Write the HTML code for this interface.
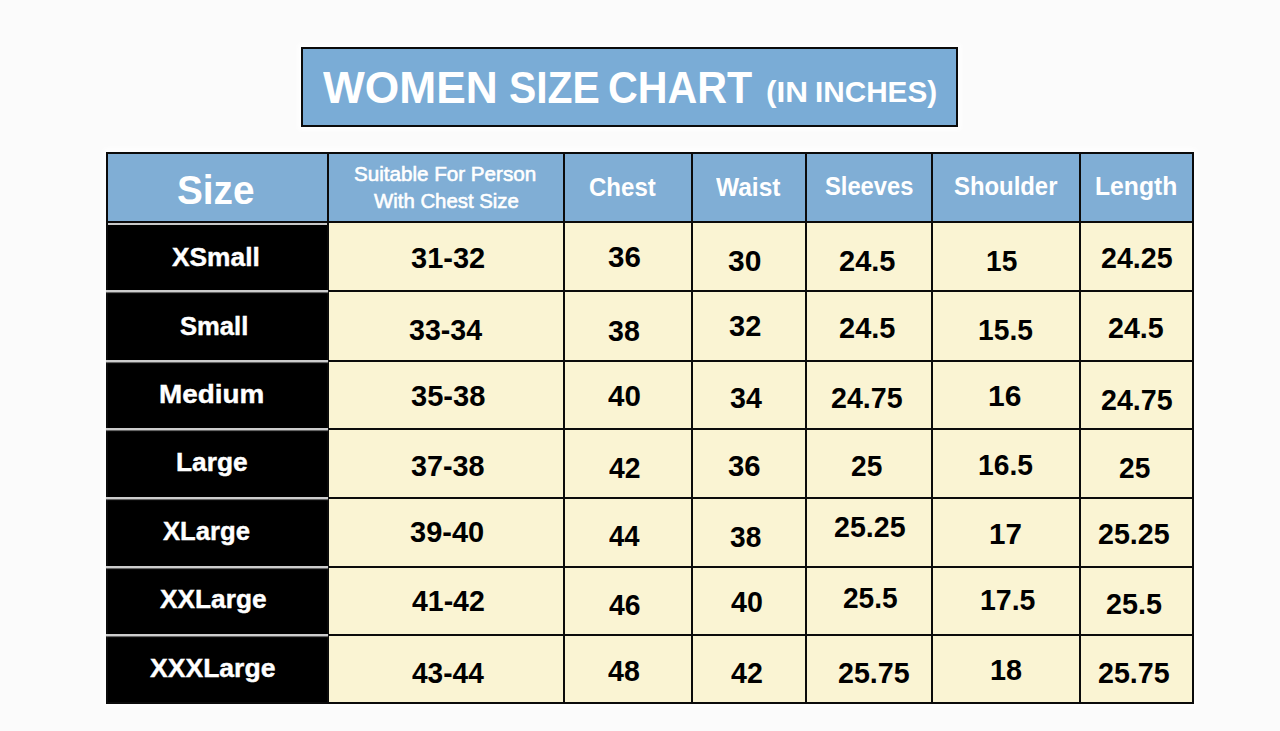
<!DOCTYPE html>
<html><head><meta charset="utf-8"><style>
html,body{margin:0;padding:0;}
body{width:1280px;height:731px;background:#fbfbfb;position:relative;overflow:hidden;font-family:"Liberation Sans",sans-serif;}
.r{position:absolute;}
.t{position:absolute;white-space:nowrap;transform-origin:0 0;}
</style></head><body>
<div class="r" style="left:301px;top:47px;width:657px;height:80px;background:#0b0b0b;box-shadow:0 0 5px 3px #fff;"></div>
<div class="r" style="left:303px;top:49px;width:653px;height:76px;background:#7aacd6;"></div>
<div class="r" style="left:106px;top:152px;width:1088px;height:552px;background:#0b0b0b;box-shadow:0 0 6px 3px #fff;"></div>
<div class="r" style="left:108px;top:154px;width:219px;height:67px;background:#80aed5;"></div>
<div class="r" style="left:329px;top:154px;width:234px;height:67px;background:#80aed5;"></div>
<div class="r" style="left:565px;top:154px;width:126px;height:67px;background:#80aed5;"></div>
<div class="r" style="left:693px;top:154px;width:112px;height:67px;background:#80aed5;"></div>
<div class="r" style="left:807px;top:154px;width:124px;height:67px;background:#80aed5;"></div>
<div class="r" style="left:933px;top:154px;width:146px;height:67px;background:#80aed5;"></div>
<div class="r" style="left:1081px;top:154px;width:111px;height:67px;background:#80aed5;"></div>
<div class="r" style="left:108px;top:223px;width:219px;height:67px;background:#000;"></div>
<div class="r" style="left:329px;top:223px;width:234px;height:67px;background:#faf4d3;"></div>
<div class="r" style="left:565px;top:223px;width:126px;height:67px;background:#faf4d3;"></div>
<div class="r" style="left:693px;top:223px;width:112px;height:67px;background:#faf4d3;"></div>
<div class="r" style="left:807px;top:223px;width:124px;height:67px;background:#faf4d3;"></div>
<div class="r" style="left:933px;top:223px;width:146px;height:67px;background:#faf4d3;"></div>
<div class="r" style="left:1081px;top:223px;width:111px;height:67px;background:#faf4d3;"></div>
<div class="r" style="left:108px;top:292px;width:219px;height:68px;background:#000;"></div>
<div class="r" style="left:329px;top:292px;width:234px;height:68px;background:#faf4d3;"></div>
<div class="r" style="left:565px;top:292px;width:126px;height:68px;background:#faf4d3;"></div>
<div class="r" style="left:693px;top:292px;width:112px;height:68px;background:#faf4d3;"></div>
<div class="r" style="left:807px;top:292px;width:124px;height:68px;background:#faf4d3;"></div>
<div class="r" style="left:933px;top:292px;width:146px;height:68px;background:#faf4d3;"></div>
<div class="r" style="left:1081px;top:292px;width:111px;height:68px;background:#faf4d3;"></div>
<div class="r" style="left:108px;top:362px;width:219px;height:66px;background:#000;"></div>
<div class="r" style="left:329px;top:362px;width:234px;height:66px;background:#faf4d3;"></div>
<div class="r" style="left:565px;top:362px;width:126px;height:66px;background:#faf4d3;"></div>
<div class="r" style="left:693px;top:362px;width:112px;height:66px;background:#faf4d3;"></div>
<div class="r" style="left:807px;top:362px;width:124px;height:66px;background:#faf4d3;"></div>
<div class="r" style="left:933px;top:362px;width:146px;height:66px;background:#faf4d3;"></div>
<div class="r" style="left:1081px;top:362px;width:111px;height:66px;background:#faf4d3;"></div>
<div class="r" style="left:108px;top:430px;width:219px;height:67px;background:#000;"></div>
<div class="r" style="left:329px;top:430px;width:234px;height:67px;background:#faf4d3;"></div>
<div class="r" style="left:565px;top:430px;width:126px;height:67px;background:#faf4d3;"></div>
<div class="r" style="left:693px;top:430px;width:112px;height:67px;background:#faf4d3;"></div>
<div class="r" style="left:807px;top:430px;width:124px;height:67px;background:#faf4d3;"></div>
<div class="r" style="left:933px;top:430px;width:146px;height:67px;background:#faf4d3;"></div>
<div class="r" style="left:1081px;top:430px;width:111px;height:67px;background:#faf4d3;"></div>
<div class="r" style="left:108px;top:499px;width:219px;height:67px;background:#000;"></div>
<div class="r" style="left:329px;top:499px;width:234px;height:67px;background:#faf4d3;"></div>
<div class="r" style="left:565px;top:499px;width:126px;height:67px;background:#faf4d3;"></div>
<div class="r" style="left:693px;top:499px;width:112px;height:67px;background:#faf4d3;"></div>
<div class="r" style="left:807px;top:499px;width:124px;height:67px;background:#faf4d3;"></div>
<div class="r" style="left:933px;top:499px;width:146px;height:67px;background:#faf4d3;"></div>
<div class="r" style="left:1081px;top:499px;width:111px;height:67px;background:#faf4d3;"></div>
<div class="r" style="left:108px;top:568px;width:219px;height:66px;background:#000;"></div>
<div class="r" style="left:329px;top:568px;width:234px;height:66px;background:#faf4d3;"></div>
<div class="r" style="left:565px;top:568px;width:126px;height:66px;background:#faf4d3;"></div>
<div class="r" style="left:693px;top:568px;width:112px;height:66px;background:#faf4d3;"></div>
<div class="r" style="left:807px;top:568px;width:124px;height:66px;background:#faf4d3;"></div>
<div class="r" style="left:933px;top:568px;width:146px;height:66px;background:#faf4d3;"></div>
<div class="r" style="left:1081px;top:568px;width:111px;height:66px;background:#faf4d3;"></div>
<div class="r" style="left:108px;top:636px;width:219px;height:66px;background:#000;"></div>
<div class="r" style="left:329px;top:636px;width:234px;height:66px;background:#faf4d3;"></div>
<div class="r" style="left:565px;top:636px;width:126px;height:66px;background:#faf4d3;"></div>
<div class="r" style="left:693px;top:636px;width:112px;height:66px;background:#faf4d3;"></div>
<div class="r" style="left:807px;top:636px;width:124px;height:66px;background:#faf4d3;"></div>
<div class="r" style="left:933px;top:636px;width:146px;height:66px;background:#faf4d3;"></div>
<div class="r" style="left:1081px;top:636px;width:111px;height:66px;background:#faf4d3;"></div>
<div class="r" style="left:108px;top:223px;width:219px;height:2px;background:#c8c8c8;"></div>
<div class="r" style="left:106px;top:290px;width:222px;height:2px;background:#cdcdcd;box-shadow:0 1px 1px rgba(205,205,205,0.55);"></div>
<div class="r" style="left:106px;top:360px;width:222px;height:2px;background:#cdcdcd;box-shadow:0 1px 1px rgba(205,205,205,0.55);"></div>
<div class="r" style="left:106px;top:428px;width:222px;height:2px;background:#cdcdcd;box-shadow:0 1px 1px rgba(205,205,205,0.55);"></div>
<div class="r" style="left:106px;top:497px;width:222px;height:2px;background:#cdcdcd;box-shadow:0 1px 1px rgba(205,205,205,0.55);"></div>
<div class="r" style="left:106px;top:566px;width:222px;height:2px;background:#cdcdcd;box-shadow:0 1px 1px rgba(205,205,205,0.55);"></div>
<div class="r" style="left:106px;top:634px;width:222px;height:2px;background:#cdcdcd;box-shadow:0 1px 1px rgba(205,205,205,0.55);"></div>
<div class="t" style="left:323.00px;top:62.93px;font-size:44px;line-height:49.16px;font-weight:700;color:#fff;transform:scaleX(1.0070);">WOMEN</div>
<div class="t" style="left:509.14px;top:62.93px;font-size:44px;line-height:49.16px;font-weight:700;color:#fff;transform:scaleX(0.9289);">SIZE</div>
<div class="t" style="left:608.42px;top:62.93px;font-size:44px;line-height:49.16px;font-weight:700;color:#fff;transform:scaleX(0.9366);">CHART</div>
<div class="t" style="left:765.93px;top:75.14px;font-size:30px;line-height:33.52px;font-weight:700;color:#fff;transform:scaleX(1.0518);">(IN</div>
<div class="t" style="left:815.42px;top:75.14px;font-size:30px;line-height:33.52px;font-weight:700;color:#fff;transform:scaleX(0.9901);">INCHES)</div>
<div class="t" style="left:177.02px;top:167.79px;font-size:40px;line-height:44.69px;font-weight:700;color:#fff;transform:scaleX(0.9683);">Size</div>
<div class="t" style="left:353.99px;top:162.59px;font-size:20.5px;line-height:22.90px;font-weight:400;color:#fff;transform:scaleX(1.0056);-webkit-text-stroke:0.6px #fff;">Suitable For Person</div>
<div class="t" style="left:374.00px;top:189.59px;font-size:20.5px;line-height:22.90px;font-weight:400;color:#fff;transform:scaleX(0.9932);-webkit-text-stroke:0.6px #fff;">With Chest Size</div>
<div class="t" style="left:589.08px;top:173.40px;font-size:26px;line-height:29.05px;font-weight:700;color:#fff;transform:scaleX(0.9242);">Chest</div>
<div class="t" style="left:716.00px;top:172.80px;font-size:26px;line-height:29.05px;font-weight:700;color:#fff;transform:scaleX(0.9420);">Waist</div>
<div class="t" style="left:825.09px;top:172.40px;font-size:26px;line-height:29.05px;font-weight:700;color:#fff;transform:scaleX(0.9128);">Sleeves</div>
<div class="t" style="left:954.08px;top:172.40px;font-size:26px;line-height:29.05px;font-weight:700;color:#fff;transform:scaleX(0.9179);">Shoulder</div>
<div class="t" style="left:1095.10px;top:172.40px;font-size:26px;line-height:29.05px;font-weight:700;color:#fff;transform:scaleX(0.9495);">Length</div>
<div class="t" style="left:171.53px;top:244.22px;font-size:25px;line-height:27.93px;font-weight:700;color:#fff;transform:scaleX(1.0526);-webkit-text-stroke:0.4px #fff;">XSmall</div>
<div class="t" style="left:179.57px;top:312.62px;font-size:25px;line-height:27.93px;font-weight:700;color:#fff;transform:scaleX(1.0242);-webkit-text-stroke:0.4px #fff;">Small</div>
<div class="t" style="left:158.77px;top:380.62px;font-size:25px;line-height:27.93px;font-weight:700;color:#fff;transform:scaleX(1.1146);-webkit-text-stroke:0.4px #fff;">Medium</div>
<div class="t" style="left:175.90px;top:449.02px;font-size:25px;line-height:27.93px;font-weight:700;color:#fff;transform:scaleX(1.0510);-webkit-text-stroke:0.4px #fff;">Large</div>
<div class="t" style="left:162.77px;top:517.62px;font-size:25px;line-height:27.93px;font-weight:700;color:#fff;transform:scaleX(1.0258);-webkit-text-stroke:0.4px #fff;">XLarge</div>
<div class="t" style="left:159.95px;top:585.62px;font-size:25px;line-height:27.93px;font-weight:700;color:#fff;transform:scaleX(1.0505);-webkit-text-stroke:0.4px #fff;">XXLarge</div>
<div class="t" style="left:150.35px;top:654.62px;font-size:25px;line-height:27.93px;font-weight:700;color:#fff;transform:scaleX(1.0621);-webkit-text-stroke:0.4px #fff;">XXXLarge</div>
<div class="t" style="left:411.00px;top:241.76px;font-size:29px;line-height:32.40px;font-weight:700;color:#000;transform:scaleX(1.0000);">31-32</div>
<div class="t" style="left:607.98px;top:240.76px;font-size:29px;line-height:32.40px;font-weight:700;color:#000;transform:scaleX(1.0180);">36</div>
<div class="t" style="left:727.97px;top:244.76px;font-size:29px;line-height:32.40px;font-weight:700;color:#000;transform:scaleX(1.0333);">30</div>
<div class="t" style="left:839.00px;top:244.76px;font-size:29px;line-height:32.40px;font-weight:700;color:#000;transform:scaleX(1.0000);">24.5</div>
<div class="t" style="left:986.06px;top:244.76px;font-size:29px;line-height:32.40px;font-weight:700;color:#000;transform:scaleX(0.9690);">15</div>
<div class="t" style="left:1101.01px;top:241.76px;font-size:29px;line-height:32.40px;font-weight:700;color:#000;transform:scaleX(0.9859);">24.25</div>
<div class="t" style="left:409.00px;top:314.16px;font-size:29px;line-height:32.40px;font-weight:700;color:#000;transform:scaleX(0.9867);">33-34</div>
<div class="t" style="left:608.01px;top:314.76px;font-size:29px;line-height:32.40px;font-weight:700;color:#000;transform:scaleX(0.9852);">38</div>
<div class="t" style="left:729.00px;top:309.76px;font-size:29px;line-height:32.40px;font-weight:700;color:#000;transform:scaleX(1.0000);">32</div>
<div class="t" style="left:839.00px;top:311.76px;font-size:29px;line-height:32.40px;font-weight:700;color:#000;transform:scaleX(1.0000);">24.5</div>
<div class="t" style="left:978.05px;top:313.76px;font-size:29px;line-height:32.40px;font-weight:700;color:#000;transform:scaleX(0.9727);">15.5</div>
<div class="t" style="left:1108.04px;top:311.76px;font-size:29px;line-height:32.40px;font-weight:700;color:#000;transform:scaleX(0.9868);">24.5</div>
<div class="t" style="left:410.80px;top:380.36px;font-size:29px;line-height:32.40px;font-weight:700;color:#000;transform:scaleX(1.0029);">35-38</div>
<div class="t" style="left:608.00px;top:379.76px;font-size:29px;line-height:32.40px;font-weight:700;color:#000;transform:scaleX(1.0174);">40</div>
<div class="t" style="left:729.98px;top:381.76px;font-size:29px;line-height:32.40px;font-weight:700;color:#000;transform:scaleX(0.9862);">34</div>
<div class="t" style="left:831.01px;top:381.76px;font-size:29px;line-height:32.40px;font-weight:700;color:#000;transform:scaleX(0.9859);">24.75</div>
<div class="t" style="left:987.93px;top:379.76px;font-size:29px;line-height:32.40px;font-weight:700;color:#000;transform:scaleX(1.0345);">16</div>
<div class="t" style="left:1101.01px;top:383.76px;font-size:29px;line-height:32.40px;font-weight:700;color:#000;transform:scaleX(0.9859);">24.75</div>
<div class="t" style="left:411.40px;top:450.36px;font-size:29px;line-height:32.40px;font-weight:700;color:#000;transform:scaleX(0.9921);">37-38</div>
<div class="t" style="left:609.01px;top:451.76px;font-size:29px;line-height:32.40px;font-weight:700;color:#000;transform:scaleX(0.9768);">42</div>
<div class="t" style="left:727.95px;top:449.76px;font-size:29px;line-height:32.40px;font-weight:700;color:#000;transform:scaleX(1.0093);">36</div>
<div class="t" style="left:851.00px;top:449.76px;font-size:29px;line-height:32.40px;font-weight:700;color:#000;transform:scaleX(0.9688);">25</div>
<div class="t" style="left:978.05px;top:448.76px;font-size:29px;line-height:32.40px;font-weight:700;color:#000;transform:scaleX(0.9727);">16.5</div>
<div class="t" style="left:1119.00px;top:451.76px;font-size:29px;line-height:32.40px;font-weight:700;color:#000;transform:scaleX(0.9688);">25</div>
<div class="t" style="left:409.99px;top:515.76px;font-size:29px;line-height:32.40px;font-weight:700;color:#000;transform:scaleX(1.0002);">39-40</div>
<div class="t" style="left:609.02px;top:519.76px;font-size:29px;line-height:32.40px;font-weight:700;color:#000;transform:scaleX(0.9463);">44</div>
<div class="t" style="left:730.03px;top:520.76px;font-size:29px;line-height:32.40px;font-weight:700;color:#000;transform:scaleX(0.9688);">38</div>
<div class="t" style="left:834.01px;top:510.76px;font-size:29px;line-height:32.40px;font-weight:700;color:#000;transform:scaleX(0.9859);">25.25</div>
<div class="t" style="left:988.96px;top:517.76px;font-size:29px;line-height:32.40px;font-weight:700;color:#000;transform:scaleX(1.0199);">17</div>
<div class="t" style="left:1098.01px;top:517.76px;font-size:29px;line-height:32.40px;font-weight:700;color:#000;transform:scaleX(0.9859);">25.25</div>
<div class="t" style="left:412.00px;top:584.96px;font-size:29px;line-height:32.40px;font-weight:700;color:#000;transform:scaleX(0.9811);">41-42</div>
<div class="t" style="left:608.99px;top:588.76px;font-size:29px;line-height:32.40px;font-weight:700;color:#000;transform:scaleX(0.9768);">46</div>
<div class="t" style="left:731.00px;top:585.76px;font-size:29px;line-height:32.40px;font-weight:700;color:#000;transform:scaleX(0.9852);">40</div>
<div class="t" style="left:843.07px;top:581.76px;font-size:29px;line-height:32.40px;font-weight:700;color:#000;transform:scaleX(0.9683);">25.5</div>
<div class="t" style="left:980.03px;top:583.76px;font-size:29px;line-height:32.40px;font-weight:700;color:#000;transform:scaleX(0.9815);">17.5</div>
<div class="t" style="left:1106.03px;top:587.76px;font-size:29px;line-height:32.40px;font-weight:700;color:#000;transform:scaleX(0.9913);">25.5</div>
<div class="t" style="left:412.00px;top:656.56px;font-size:29px;line-height:32.40px;font-weight:700;color:#000;transform:scaleX(0.9678);">43-44</div>
<div class="t" style="left:608.00px;top:654.76px;font-size:29px;line-height:32.40px;font-weight:700;color:#000;transform:scaleX(0.9856);">48</div>
<div class="t" style="left:731.00px;top:656.76px;font-size:29px;line-height:32.40px;font-weight:700;color:#000;transform:scaleX(0.9852);">42</div>
<div class="t" style="left:838.02px;top:656.76px;font-size:29px;line-height:32.40px;font-weight:700;color:#000;transform:scaleX(0.9859);">25.75</div>
<div class="t" style="left:990.01px;top:653.76px;font-size:29px;line-height:32.40px;font-weight:700;color:#000;transform:scaleX(0.9927);">18</div>
<div class="t" style="left:1098.01px;top:656.76px;font-size:29px;line-height:32.40px;font-weight:700;color:#000;transform:scaleX(0.9859);">25.75</div>
</body></html>
